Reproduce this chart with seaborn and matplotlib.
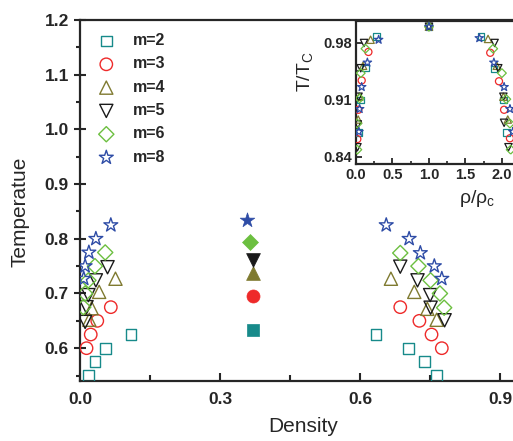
import matplotlib
matplotlib.use("Agg")
import matplotlib.pyplot as plt
import seaborn as sns
import numpy as np
from matplotlib.ticker import MultipleLocator

sns.set_style("ticks")
plt.rcParams['font.family'] = ['Liberation Sans', 'DejaVu Sans']
plt.rcParams['mathtext.fontset'] = 'custom'
plt.rcParams['mathtext.rm'] = 'Liberation Sans'

labels = ["m=2", "m=3", "m=4", "m=5", "m=6", "m=8"]
markers = ["s", "o", "^", "v", "D", "*"]
colors = ["#178a8a", "#ee2a2a", "#7f7a30", "#1a1a1a", "#6cbf40", "#2e4ca6"]
sizes_main = [60, 80, 90, 90, 60, 110]
sizes_in = [22, 26, 28, 28, 20, 40]

# main panel: coexistence densities and temperatures
dens_m2 = [0.019, 0.032, 0.054, 0.109, 0.634, 0.704, 0.738, 0.763]
temp_m2 = [0.55, 0.575, 0.60, 0.625, 0.625, 0.60, 0.575, 0.55]
dens_m3 = [0.014, 0.023, 0.037, 0.066, 0.686, 0.727, 0.753, 0.775]
temp_m3 = [0.60, 0.625, 0.65, 0.675, 0.675, 0.65, 0.625, 0.60]
dens_m4 = [0.020, 0.025, 0.041, 0.076, 0.666, 0.716, 0.744, 0.764]
temp_m4 = [0.652, 0.673, 0.703, 0.727, 0.727, 0.703, 0.672, 0.652]
dens_m5 = [0.011, 0.014, 0.018, 0.034, 0.059, 0.686, 0.723, 0.750, 0.751, 0.781]
temp_m5 = [0.648, 0.675, 0.697, 0.724, 0.748, 0.749, 0.724, 0.697, 0.674, 0.651]
dens_m6 = [0.007, 0.011, 0.018, 0.032, 0.054, 0.686, 0.725, 0.751, 0.771, 0.780]
temp_m6 = [0.675, 0.700, 0.724, 0.750, 0.775, 0.774, 0.750, 0.724, 0.700, 0.674]
dens_m8 = [0.008, 0.011, 0.019, 0.034, 0.066, 0.656, 0.705, 0.729, 0.759, 0.775]
temp_m8 = [0.727, 0.750, 0.775, 0.800, 0.825, 0.825, 0.800, 0.774, 0.750, 0.727]

# critical points (filled)
crit_dens = [0.370, 0.370, 0.370, 0.370, 0.364, 0.357]
crit_temp = [0.633, 0.695, 0.737, 0.762, 0.795, 0.834]

# inset: reduced coordinates
red_rho_m2 = [0.040, 0.065, 0.133, 0.280, 1.715, 1.890, 2.020, 2.060]
red_t_m2 = [0.870, 0.910, 0.949, 0.988, 0.988, 0.948, 0.910, 0.870]
red_rho_m3 = [0.018, 0.032, 0.078, 0.170, 1.840, 1.960, 2.030, 2.110]
red_t_m3 = [0.862, 0.898, 0.934, 0.969, 0.968, 0.933, 0.898, 0.863]
red_rho_m4 = [0.030, 0.045, 0.097, 0.200, 1.810, 1.930, 2.020, 2.080]
red_t_m4 = [0.886, 0.914, 0.952, 0.984, 0.985, 0.952, 0.914, 0.886]
red_rho_m5 = [0.020, 0.025, 0.035, 0.065, 0.110, 1.900, 1.950, 2.020, 2.030, 2.090]
red_t_m5 = [0.852, 0.880, 0.914, 0.949, 0.980, 0.980, 0.949, 0.914, 0.882, 0.852]
red_rho_m6 = [0.018, 0.018, 0.050, 0.065, 0.130, 1.880, 2.000, 2.060, 2.110, 2.120]
red_t_m6 = [0.849, 0.881, 0.912, 0.943, 0.973, 0.973, 0.943, 0.911, 0.881, 0.849]
red_rho_m8 = [0.040, 0.050, 0.078, 0.156, 0.310, 1.690, 1.890, 2.030, 2.110, 2.150]
red_t_m8 = [0.871, 0.899, 0.926, 0.956, 0.984, 0.986, 0.956, 0.926, 0.899, 0.871]
red_crit_rho = [1.0, 1.0, 1.0, 1.0, 1.0, 1.0]
red_crit_t = [1.0, 1.0, 1.0, 1.0, 1.0, 1.0]

main_x = [dens_m2, dens_m3, dens_m4, dens_m5, dens_m6, dens_m8]
main_y = [temp_m2, temp_m3, temp_m4, temp_m5, temp_m6, temp_m8]
in_x = [red_rho_m2, red_rho_m3, red_rho_m4, red_rho_m5, red_rho_m6, red_rho_m8]
in_y = [red_t_m2, red_t_m3, red_t_m4, red_t_m5, red_t_m6, red_t_m8]

W, H = 513, 441
fig = plt.figure(figsize=(W / 100, H / 100), dpi=100)

def px_axes(l, t, r, b):
    return fig.add_axes([l / W, 1 - b / H, (r - l) / W, (b - t) / H])

ax = px_axes(80, 20, 516.5, 381)
axin = px_axes(356, 21, 516.5, 164)

for i in range(6):
    sns.scatterplot(x=main_x[i], y=main_y[i], ax=ax, marker=markers[i],
                    s=sizes_main[i], facecolor="none", edgecolor=colors[i],
                    linewidth=1.0, label=labels[i], zorder=3)
    sns.scatterplot(x=[crit_dens[i]], y=[crit_temp[i]], ax=ax, marker=markers[i],
                    s=sizes_main[i] * 1.1, color=colors[i], edgecolor=colors[i],
                    linewidth=0.5, zorder=3)
    sns.scatterplot(x=in_x[i], y=in_y[i], ax=axin, marker=markers[i],
                    s=sizes_in[i], facecolor="none", edgecolor=colors[i],
                    linewidth=0.9, zorder=3)
    sns.scatterplot(x=[red_crit_rho[i]], y=[red_crit_t[i]], ax=axin, marker=markers[i],
                    s=sizes_in[i], facecolor="none", edgecolor=colors[i],
                    linewidth=0.9, zorder=3)

# main axes styling
ax.set_xlim(0, 0.935)
ax.set_ylim(0.54, 1.2)
ax.xaxis.set_minor_locator(MultipleLocator(0.15))
ax.yaxis.set_minor_locator(MultipleLocator(0.05))
ax.set_xticks([0.0, 0.3, 0.6, 0.9])
ax.set_xticklabels(["0.0", "0.3", "0.6", "0.9"])
ax.set_yticks([0.6, 0.7, 0.8, 0.9, 1.0, 1.1, 1.2])
ax.set_yticklabels(["0.6", "0.7", "0.8", "0.9", "1.0", "1.1", "1.2"])
ax.tick_params(axis="x", which="major", direction="in", length=6, width=1.5,
               labelsize=12.5, pad=8)
ax.tick_params(axis="x", which="minor", direction="in", length=4, width=1.5)
ax.tick_params(axis="y", which="major", direction="inout", length=8, width=1.5,
               labelsize=12.5, pad=4)
ax.tick_params(axis="y", which="minor", direction="out", length=3, width=1.5)
for lab in ax.get_xticklabels() + ax.get_yticklabels():
    lab.set_fontweight("bold")
for side in ["left", "bottom", "top"]:
    ax.spines[side].set_linewidth(1.6)
    ax.spines[side].set_visible(True)
ax.spines["right"].set_visible(False)
ax.set_xlabel("Density", fontsize=15)
ax.set_ylabel("Temperatue", fontsize=15)
ax.xaxis.set_label_coords((303 - 80) / 436.5, -(417 - 381) / 361)
ax.yaxis.set_label_coords(-(80 - 30) / 436.5, (381 - 212) / 361)

leg = ax.legend(loc="upper left", bbox_to_anchor=(0.02, 0.99), frameon=False,
                prop={"weight": "bold", "size": 11.5}, handletextpad=1.15,
                labelspacing=0.52, borderaxespad=0.2, handlelength=1.0)

# inset styling
axin.set_xlim(0, 2.2)
axin.set_ylim(0.8314, 1.007)
axin.set_xticks([0.0, 0.5, 1.0, 1.5, 2.0])
axin.set_xticklabels(["0.0", "0.5", "1.0", "1.5", "2.0"])
axin.xaxis.set_minor_locator(MultipleLocator(0.25))
axin.set_yticks([0.84, 0.91, 0.98])
axin.set_yticklabels(["0.84", "0.91", "0.98"])
axin.yaxis.set_minor_locator(MultipleLocator(0.035))
axin.tick_params(axis="both", which="major", direction="in", length=4, width=1.3,
                 labelsize=10.5, pad=3)
axin.tick_params(axis="both", which="minor", direction="in", length=2.5, width=1.2)
for lab in axin.get_xticklabels() + axin.get_yticklabels():
    lab.set_fontweight("bold")
for side in ["left", "bottom", "top"]:
    axin.spines[side].set_linewidth(1.6)
axin.spines["right"].set_visible(False)
axin.set_xlabel("ρ/ρ$_\\mathregular{c}$", fontsize=14)
axin.set_ylabel("T/T$_\\mathregular{C}$", fontsize=14)
axin.xaxis.set_label_coords((477 - 356) / 160.5, -(188 - 164) / 143)
axin.yaxis.set_label_coords(-(356 - 316) / 160.5, (164 - 72) / 143)
axin.patch.set_alpha(0)

fig.savefig("out.png", dpi=100)
